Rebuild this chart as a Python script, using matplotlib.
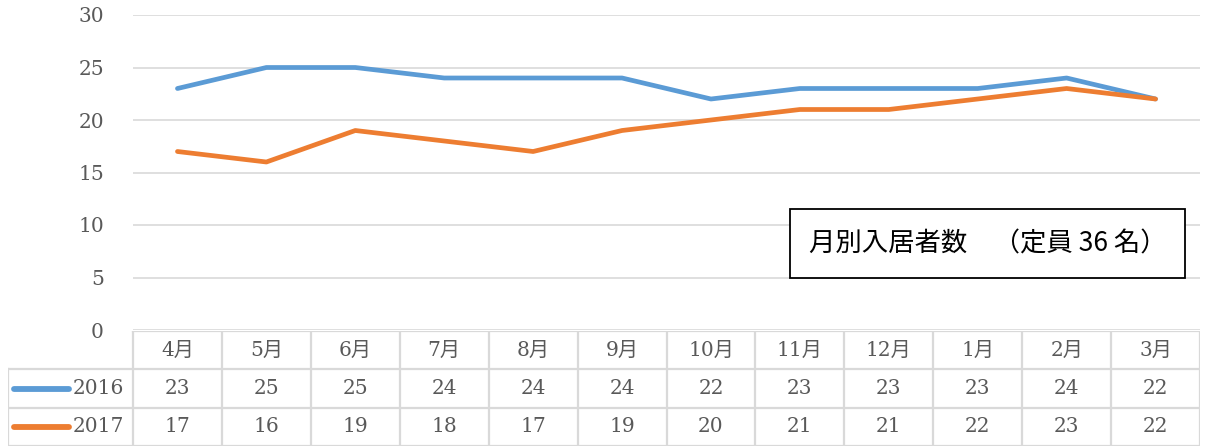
import matplotlib.pyplot as plt
from matplotlib.patches import Rectangle

# data
months = ["4月", "5月", "6月", "7月", "8月", "9月", "10月", "11月", "12月", "1月", "2月", "3月"]
series_names = ["2016", "2017"]
vals_2016 = [23, 25, 25, 24, 24, 24, 22, 23, 23, 23, 24, 22]
vals_2017 = [17, 16, 19, 18, 17, 19, 20, 21, 21, 22, 23, 22]
colors = ["#5B9BD5", "#ED7D31"]
yticks = [0, 5, 10, 15, 20, 25, 30]
box_text = "月別入居者数　（定員 36 名）"

serif = ["DejaVu Serif", "Noto Sans CJK JP"]
sans = ["Noto Sans CJK JP", "DejaVu Sans"]
txt_col = "#595959"
grid_col = "#D9D9D9"
fs = 14.5

W, H = 1207, 447
fig = plt.figure(figsize=(W / 100, H / 100), dpi=100)

# main plot area
x0, x1, ytop, ybot = 133, 1200, 15, 330
ax = fig.add_axes([x0 / W, 1 - ybot / H, (x1 - x0) / W, (ybot - ytop) / H])
xs = list(range(len(months)))
for vals, c in zip([vals_2016, vals_2017], colors):
    ax.plot(xs, vals, color=c, lw=3.4, solid_capstyle="round", solid_joinstyle="round", zorder=3)
ax.set_xlim(-0.5, len(months) - 0.5)
ax.set_ylim(0, 30)
ax.set_yticks(yticks)
ax.set_yticklabels([str(v) for v in yticks], family=serif, fontsize=fs, color=txt_col)
ax.tick_params(axis="y", length=0, pad=21)
ax.set_xticks([])
ax.grid(axis="y", color=grid_col, lw=1.2)
for s in ax.spines.values():
    s.set_visible(False)

# data table under the plot
tl, tt, tb = 8, 331, 446
unit = (x1 - x0) / len(months)
left_x = -0.5 - (x0 - tl) / unit
axt = fig.add_axes([tl / W, 1 - tb / H, (x1 - tl) / W, (tb - tt) / H])
axt.set_xlim(left_x, len(months) - 0.5)
axt.set_ylim(3, 0)
axt.axis("off")

lw = 1.6
axt.plot([-0.5, len(months) - 0.5], [0, 0], color=grid_col, lw=lw)
for r in [1, 2, 3]:
    axt.plot([left_x, len(months) - 0.5], [r, r], color=grid_col, lw=lw)
for k in range(len(months) + 1):
    axt.plot([k - 0.5, k - 0.5], [0, 3], color=grid_col, lw=lw)
axt.plot([left_x, left_x], [1, 3], color=grid_col, lw=lw)

for i, m in enumerate(months):
    axt.text(i, 0.5, m, ha="center", va="center", family=serif, fontsize=fs, color=txt_col)
for r, (name, vals, c) in enumerate(zip(series_names, [vals_2016, vals_2017], colors)):
    y = r + 1.5
    for i, v in enumerate(vals):
        axt.text(i, y, str(v), ha="center", va="center", family=serif, fontsize=fs, color=txt_col)
    kx0 = left_x + 6 / unit
    axt.plot([kx0, kx0 + 55 / unit], [y, y], color=c, lw=4.2, solid_capstyle="round")
    axt.text(kx0 + 59 / unit, y, name, ha="left", va="center", family=serif, fontsize=fs, color=txt_col)

# title box
bx0, bx1, by0, by1 = 790, 1185, 209, 278
fig.patches.append(Rectangle((bx0 / W, 1 - by1 / H), (bx1 - bx0) / W, (by1 - by0) / H,
                             transform=fig.transFigure, fill=True, facecolor="white",
                             edgecolor="black", lw=1.3, zorder=5))
fig.text((bx0 + bx1) / 2 / W, 1 - (by0 + by1) / 2 / H, box_text, ha="center", va="center",
         family=sans, fontsize=19, color="black", zorder=6)

fig.savefig("out.png", dpi=100)
